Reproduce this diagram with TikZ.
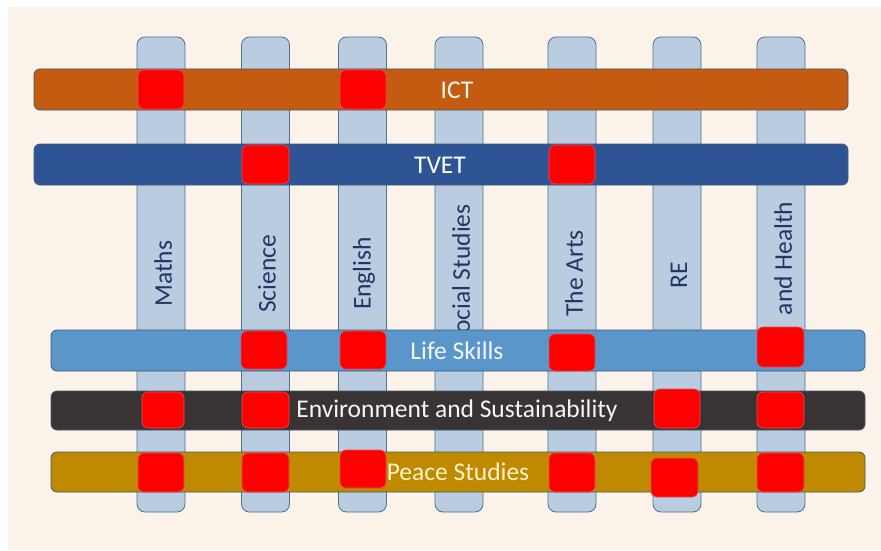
\documentclass[tikz,border=0pt]{standalone}
\usepackage{fontspec}
\setmainfont{Carlito}
\definecolor{bgc}{HTML}{FBF3EA}
\definecolor{colfill}{HTML}{B9CCE0}
\definecolor{coldraw}{HTML}{50708F}
\definecolor{ictc}{HTML}{C55A11}
\definecolor{tvetc}{HTML}{2F5496}
\definecolor{lifec}{HTML}{5B96CB}
\definecolor{envc}{HTML}{3A3334}
\definecolor{peacec}{HTML}{BF8A00}
\definecolor{coltext}{HTML}{1F3864}
\definecolor{peacetext}{HTML}{FFF2CC}
\definecolor{sqdraw}{HTML}{E0505A}
\begin{document}
\begin{tikzpicture}[x=1pt,y=-1pt,
  subjcol/.style={rectangle, rounded corners=8pt, fill=colfill, draw=coldraw, line width=0.8pt,
    minimum width=48pt, minimum height=475pt, inner sep=0pt},
  subjlabel/.style={rotate=90, text=coltext, font=\fontsize{25.5}{30}\selectfont, inner sep=0pt},
  themebar/.style={rectangle, rounded corners=6pt, draw=coldraw!80!black, line width=0.8pt,
    minimum height=41pt, inner sep=0pt},
  barlabel/.style={font=\fontsize{25.5}{30}\selectfont, inner sep=0pt},
  redsq/.style={rectangle, rounded corners=6pt, fill=red, draw=sqdraw, line width=0.6pt,
    minimum width=46pt, minimum height=39pt, inner sep=0pt}
]
\useasboundingbox (0,0) rectangle (881,551);
\fill[white] (0,0) rectangle (881,551);
\fill[bgc] (8,7) rectangle (881,550);

% subject columns
\node[subjcol] (cMaths)   at (161,274.5) {};
\node[subjcol] (cScience) at (265.5,274.5) {};
\node[subjcol] (cEnglish) at (362.5,274.5) {};
\node[subjcol] (cSocial)  at (459,274.5) {};
\node[subjcol] (cArts)    at (572,274.5) {};
\node[subjcol] (cRE)      at (677,274.5) {};
\node[subjcol] (cHealth)  at (781,274.5) {};

\node[subjlabel] (lMaths)   at (163,273.5) {Maths};
\node[subjlabel] (lScience) at (267,274) {Science};
\node[subjlabel] (lEnglish) at (364,273.5) {English};
\node[subjlabel] (lSocial)  at (461,275) {Social Studies};
\node[subjlabel] (lArts)    at (574,273.5) {The Arts};
\node[subjlabel] (lRE)      at (679,275) {RE};
\node[subjlabel] (lHealth)  at (783,258.5) {and Health};

% theme bars
\node[themebar, fill=ictc,  minimum width=814pt] (bICT)   at (441,89.5) {};
\node[themebar, fill=tvetc, minimum width=814pt] (bTVET)  at (441,164.5) {};
\node[themebar, fill=lifec, minimum width=814pt] (bLife)  at (458,350.5) {};
\node[themebar, fill=envc,  minimum width=814pt, minimum height=39pt] (bEnv) at (458,410.5) {};
\node[themebar, fill=peacec,minimum width=814pt, minimum height=40pt] (bPeace) at (458,472) {};

\node[barlabel, text=white!95!ictc] (tICT)  at (457,90) {ICT};
\node[barlabel, text=white] (tTVET) at (440,165) {TVET};
\node[barlabel, text=white!92!lifec] (tLife) at (457,351) {Life Skills};
\node[barlabel, text=white!95!envc] (tEnv) at (457,411) {Environment and Sustainability};
\node[barlabel, text=peacetext] (tPeace) at (458,472) {Peace Studies};

% red squares
\node[redsq] (ictMaths)   at (161,89.5) {};
\node[redsq] (ictEnglish) at (363,89.5) {};
\node[redsq, minimum width=47pt] (tvetScience) at (265.5,164.5) {};
\node[redsq] (tvetArts)   at (572,164.5) {};

\node[redsq, minimum height=38pt] (lifeScience) at (264,350) {};
\node[redsq, minimum height=38pt] (lifeEnglish) at (363,350) {};
\node[redsq, minimum height=37pt] (lifeArts)    at (572,352.5) {};
\node[redsq, minimum width=47pt, minimum height=40pt] (lifeHealth) at (780.5,347) {};

\node[redsq, minimum width=42pt, minimum height=36pt] (envMaths)   at (163,410) {};
\node[redsq, minimum width=47pt, minimum height=36pt] (envScience) at (265.5,410) {};
\node[redsq, minimum height=39pt] (envRE) at (677,408.5) {};
\node[redsq, minimum width=47pt, minimum height=36pt] (envHealth)  at (780.5,410) {};

\node[redsq] (peaceMaths)   at (161,472.5) {};
\node[redsq, minimum width=47pt] (peaceScience) at (265.5,472.5) {};
\node[redsq, minimum height=38pt] (peaceEnglish) at (363,469) {};
\node[redsq] (peaceArts)    at (572,472.5) {};
\node[redsq, minimum width=47pt] (peaceRE) at (674.5,477.5) {};
\node[redsq, minimum width=47pt] (peaceHealth)  at (780.5,472.5) {};
\end{tikzpicture}
\end{document}
